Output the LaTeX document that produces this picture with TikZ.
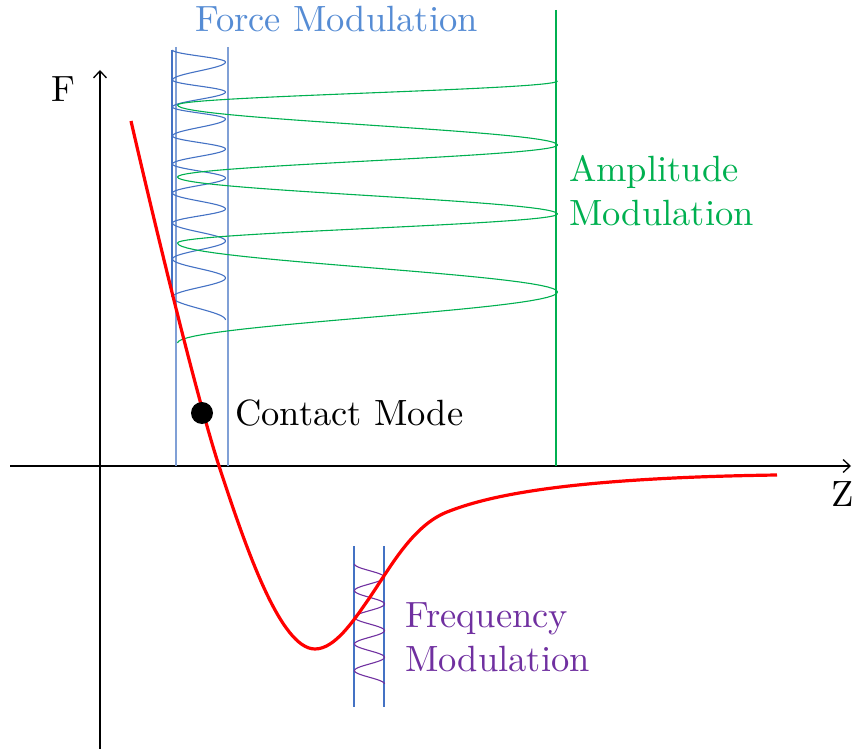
\documentclass[tikz,border=0pt]{standalone}
\usepackage{fontspec}
\setmainfont{lmroman10-regular.otf}
\usepackage{tikz}
\usetikzlibrary{
  arrows.meta
}
\definecolor{afmred}{RGB}{255,0,0}
\definecolor{afmblue}{RGB}{68,114,196}
\definecolor{afmlightblue}{RGB}{128,160,214}
\definecolor{afmtextblue}{RGB}{86,140,212}
\definecolor{afmgreen}{RGB}{0,176,80}
\definecolor{afmpurple}{RGB}{112,48,160}
\tikzset{
  afmAxis/.style={
    -{Straight Barb[length=7pt,width=13pt]},
    line width=1.3pt,
    black
  },
  afmForce/.style={
    draw=afmred,
    line width=3.2pt,
    line join=round
  },
  afmGuide/.style={
    draw=afmlightblue,
    line width=1.3pt
  },
  afmWave/.style={
    line width=1.1pt
  },
  afmLabel/.style={
    font=\fontsize{36.5}{44}\selectfont,
    inner sep=0pt,
    align=left
  }
}

\begin{document}
\begin{tikzpicture}[x=1pt, y=-1pt]
  \useasboundingbox (0,0) rectangle (852,749);

  % axes
  \coordinate (fBottom) at (100,749);
  \coordinate (fTop) at (100,70);
  \coordinate (zLeft) at (10,466);
  \coordinate (zRight) at (851,466);
  \draw[afmAxis] (fBottom) -- (fTop);
  \draw[afmAxis] (zLeft) -- (zRight);
  \node[afmLabel, anchor=base] (fLabel) at (63,102) {F};
  \node[afmLabel, anchor=base west] (zLabel) at (831,506) {Z};

  % force modulation
  \draw[afmGuide] (176,47) -- (176,466);
  \draw[afmGuide] (228,47) -- (228,466);
  \draw[afmWave, afmblue] (172,50) -- (172,297);
  \foreach \yb [remember=\yb as \ya (initially 50), count=\i] in
      {62,80,92,107,119,136,149,164,178,193,209,223,241,259,278,297,320}
    \draw[afmWave, afmblue] plot[domain=0:1, samples=20, variable=\t]
      ({199-26.5*cos(180*(\t+\i-1))}, {\ya+(\yb-\ya)*\t});
  \node[afmLabel, text=afmtextblue, anchor=base west] (forceLabel) at (195,32)
    {Force Modulation};

  % amplitude modulation
  \draw[afmWave, afmgreen] (556,10) -- (556,466);
  \foreach \yb [remember=\yb as \ya (initially 81), count=\i] in
      {105,145,177,214,243,292,343}
    \draw[afmWave, afmgreen] plot[domain=0:1, samples=30, variable=\t]
      ({367.5+190*cos(180*(\t+\i-1))}, {\ya+(\yb-\ya)*\t});
  \node[afmLabel, text=afmgreen, anchor=west] (ampLabel) at (569,191)
    {Amplitude\\Modulation};

  % frequency modulation
  \draw[afmWave, afmblue] (354,546) -- (354,707);
  \draw[afmWave, afmblue] (384,546) -- (384,707);
  \draw[afmWave, afmpurple] plot[domain=0:9, samples=160, variable=\t]
    ({369.5-15*cos(180*\t)}, {564+13.33*\t});
  \node[afmLabel, text=afmpurple, anchor=west] (freqLabel) at (405,637)
    {Frequency\\Modulation};

  % force curve
  \coordinate (zCross) at (219,466);
  \coordinate (wellMin) at (315,649);
  \coordinate (wellRise) at (368,600);
  \coordinate (shoulder) at (447,512);
  \draw[afmForce] (131,121) .. controls (154,221) and (196,395) .. (zCross)
    .. controls (245,545) and (280,649) .. (wellMin)
    .. controls (335,649) and (354,620) .. (wellRise)
    .. controls (390,568) and (412,526) .. (shoulder)
    .. controls (485,497) and (560,478) .. (777,475);

  % contact mode
  \fill (202,413) circle[radius=11] coordinate (contactDot);
  \node[afmLabel, anchor=base west] (contactLabel) at (235,425)
    {Contact Mode};
\end{tikzpicture}
\end{document}
